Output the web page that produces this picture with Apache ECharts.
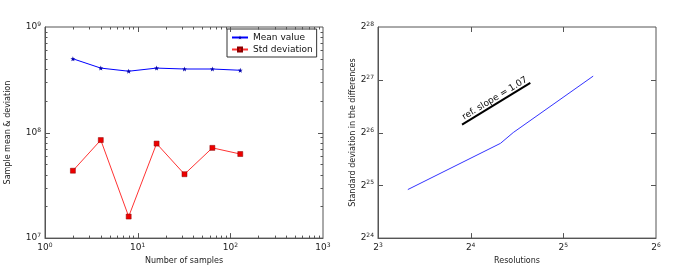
<!DOCTYPE html>
<html><head><meta charset="utf-8">
<script src="https://cdn.jsdelivr.net/npm/echarts@6/dist/echarts.min.js"></script>
<style>html,body{margin:0;padding:0;background:#fff}#c{width:692px;height:270px}</style>
</head><body><div id="c"></div>
<script>
// ---- data ----
const sampleCounts = [2, 4, 8, 16, 32, 64, 128];
const meanValues = [5.0e8, 4.08e8, 3.81e8, 4.08e8, 4.0e8, 4.0e8, 3.89e8];
const stdValues = [4.35e7, 8.49e7, 1.6e7, 7.86e7, 4.03e7, 7.16e7, 6.26e7];
const resolutions = [10, 20, 22, 40];
const diffStd = [31.74e6, 58.25e6, 67.11e6, 140.8e6];
const refX = [15, 25];
const refY = [74.5e6, 128.8e6];
const refLabel = 'ref. slope = 1.07';
const leftXTicks = [1, 10, 100, 1000];
const leftYTicks = [1e7, 1e8, 1e9];
const rightXTicks = [8, 16, 32, 64];
const rightYTicks = [16777216, 33554432, 67108864, 134217728, 268435456];

const FONT = 'DejaVu Sans';
const AX = '#555';

function supFmt(base) {
  return function (v) {
    const e = Math.round(Math.log(v) / Math.log(base));
    return '{b|' + base + '}{s|' + e + '}';
  };
}
const rich = {
  b: { fontSize: 9, fontFamily: FONT, color: '#222' },
  s: { fontSize: 6, fontFamily: FONT, color: '#222', verticalAlign: 'top', padding: [0, 0, 5, 0] }
};

// tick marks (major + minor) computed from tick arrays
function buildTicks(xt, yt, base, minor) {
  const out = [];
  const xmin = xt[0], xmax = xt[xt.length - 1], ymin = yt[0], ymax = yt[yt.length - 1];
  function add(arr, isX) {
    for (let i = 0; i < arr.length; i++) {
      const v = arr[i];
      if (i > 0 && i < arr.length - 1) out.push(isX ? [v, ymin, 0, 1] : [xmin, v, 1, 1]);
      if (minor && i < arr.length - 1) {
        for (let k = 2; k < base; k++) {
          const m = v * k;
          out.push(isX ? [m, ymin, 0, 0] : [xmin, m, 1, 0]);
        }
      }
    }
  }
  add(xt, true); add(yt, false);
  return { data: out, xmin, xmax, ymin, ymax };
}

function tickSeries(t, idx) {
  return {
    type: 'custom', xAxisIndex: idx, yAxisIndex: idx, silent: true, z: 5,
    data: t.data, encode: { x: 0, y: 1 },
    renderItem: function (params, api) {
      const v0 = api.value(0), v1 = api.value(1), isY = api.value(2), major = api.value(3);
      const len = major ? 5 : 2.5;
      const children = [];
      const st = { stroke: AX, lineWidth: 1 };
      if (!isY) {
        const a = api.coord([v0, t.ymin]), b = api.coord([v0, t.ymax]);
        const x = Math.round(a[0]) + 0.5;
        children.push({ type: 'line', shape: { x1: x, y1: a[1], x2: x, y2: a[1] - len }, style: st });
        children.push({ type: 'line', shape: { x1: x, y1: b[1], x2: x, y2: b[1] + len }, style: st });
      } else {
        const a = api.coord([t.xmin, v1]), b = api.coord([t.xmax, v1]);
        const y = Math.round(a[1]) + 0.5;
        children.push({ type: 'line', shape: { x1: a[0], y1: y, x2: a[0] + len, y2: y }, style: st });
        children.push({ type: 'line', shape: { x1: b[0], y1: y, x2: b[0] - len, y2: y }, style: st });
      }
      return { type: 'group', children };
    }
  };
}

const tL = buildTicks(leftXTicks, leftYTicks, 10, true);
const tR = buildTicks(rightXTicks, rightYTicks, 2, false);

const star = 'path://M0,-10L2.4,-3.2L9.5,-3.1L3.8,1.2L5.9,8.1L0,4L-5.9,8.1L-3.8,1.2L-9.5,-3.1L-2.4,-3.2Z';

function logAxis(base, min, max, extra) {
  return Object.assign({
    type: 'log', logBase: base, min: min, max: max, interval: 1,
    axisLine: { show: true, lineStyle: { color: AX, width: 1 } },
    axisTick: { show: false },
    minorTick: { show: false },
    splitLine: { show: false },
    axisLabel: { formatter: supFmt(base), rich: rich, margin: 4 },
    nameTextStyle: { fontFamily: FONT, fontSize: 8, color: '#222' }
  }, extra);
}

const chart = echarts.init(document.getElementById('c'), null, { renderer: 'canvas' });
chart.setOption({
  animation: false,
  backgroundColor: '#fff',
  textStyle: { fontFamily: FONT },
  grid: [
    { left: 45, top: 27, width: 278, height: 216, show: true, borderColor: AX, borderWidth: 1, containLabel: false },
    { left: 378, top: 27, width: 278, height: 216, show: true, borderColor: AX, borderWidth: 1, containLabel: false }
  ],
  xAxis: [
    logAxis(10, leftXTicks[0], leftXTicks[leftXTicks.length - 1], { gridIndex: 0, name: 'Number of samples', nameLocation: 'middle', nameGap: 18 }),
    logAxis(2, rightXTicks[0], rightXTicks[rightXTicks.length - 1], { gridIndex: 1, name: 'Resolutions', nameLocation: 'middle', nameGap: 18 })
  ],
  yAxis: [
    logAxis(10, leftYTicks[0], leftYTicks[leftYTicks.length - 1], { gridIndex: 0, name: 'Sample mean & deviation', nameLocation: 'middle', nameGap: 33 }),
    logAxis(2, rightYTicks[0], rightYTicks[rightYTicks.length - 1], { gridIndex: 1, name: 'Standard deviation in the differences', nameLocation: 'middle', nameGap: 19 })
  ],
  legend: {
    left: 227, top: 29, orient: 'vertical',
    borderColor: '#333', borderWidth: 1, borderRadius: 0, padding: [4, 4, 3, 4],
    itemGap: 3, itemWidth: 16, itemHeight: 5,
    textStyle: { fontFamily: FONT, fontSize: 9, color: '#111' },
    data: ['Mean value', 'Std deviation']
  },
  series: [
    {
      name: 'Mean value', type: 'line', xAxisIndex: 0, yAxisIndex: 0,
      data: sampleCounts.map((x, i) => [x, meanValues[i]]),
      symbol: star, symbolSize: 5,
      lineStyle: { color: '#0000ff', width: 1 },
      itemStyle: { color: '#0000aa' }
    },
    {
      name: 'Std deviation', type: 'line', xAxisIndex: 0, yAxisIndex: 0,
      data: sampleCounts.map((x, i) => [x, stdValues[i]]),
      symbol: 'rect', symbolSize: 5,
      lineStyle: { color: '#ff3333', width: 1 },
      itemStyle: { color: '#ee0000', borderColor: '#880000', borderWidth: 0.5 }
    },
    {
      name: 'diff', type: 'line', xAxisIndex: 1, yAxisIndex: 1,
      data: resolutions.map((x, i) => [x, diffStd[i]]),
      symbol: 'none', lineStyle: { color: '#3333ff', width: 1 }
    },
    {
      name: 'ref', type: 'custom', xAxisIndex: 1, yAxisIndex: 1, silent: true,
      data: [[refX[0], refY[0], refX[1], refY[1]]],
      encode: { x: [0, 2], y: [1, 3] },
      renderItem: function (params, api) {
        const a = api.coord([api.value(0), api.value(1)]);
        const b = api.coord([api.value(2), api.value(3)]);
        const ang = Math.atan2(a[1] - b[1], b[0] - a[0]);
        const mx = (a[0] + b[0]) / 2, my = (a[1] + b[1]) / 2;
        return {
          type: 'group', children: [
            { type: 'line', shape: { x1: a[0], y1: a[1], x2: b[0], y2: b[1] }, style: { stroke: '#000', lineWidth: 2 } },
            { type: 'text', x: mx + 1, y: my - 1.5, rotation: ang,
              style: { text: refLabel, fontFamily: FONT, fontSize: 9, fill: '#111', align: 'center', verticalAlign: 'bottom' } }
          ]
        };
      }
    },
    tickSeries(tL, 0),
    tickSeries(tR, 1)
  ]
});
</script></body></html>
